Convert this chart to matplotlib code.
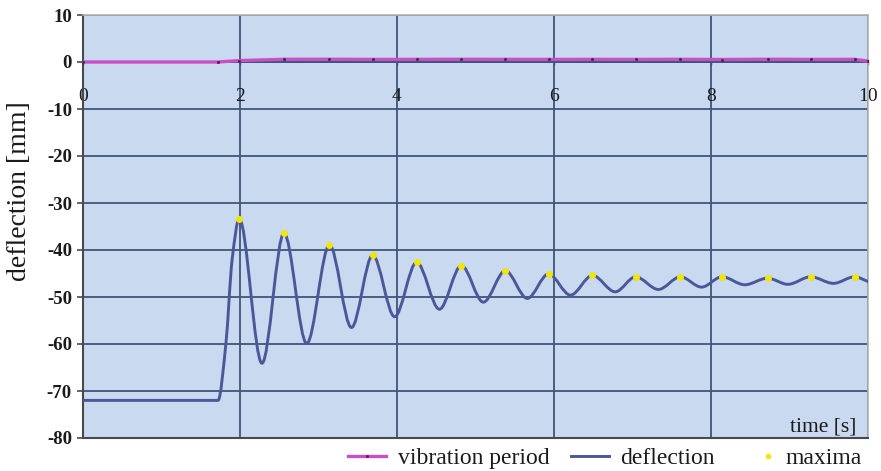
import matplotlib
matplotlib.use("Agg")
import matplotlib.pyplot as plt
from matplotlib.path import Path
from matplotlib.patches import PathPatch
from matplotlib.lines import Line2D
from matplotlib.legend_handler import HandlerLine2D
import numpy as np

# ---- data -------------------------------------------------------------
# deflection curve: read points (start plateau, rise, alternating extrema)
t_deflection = [0.0, 1.72, 1.82, 1.90, 1.99, 2.28, 2.56, 2.85, 3.14, 3.42,
                3.69, 3.97, 4.25, 4.54, 4.82, 5.10, 5.38, 5.66, 5.93, 6.21,
                6.49, 6.78, 7.04, 7.33, 7.61, 7.88, 8.14, 8.43, 8.72, 8.98,
                9.27, 9.56, 9.83, 10.0]
deflection = [-72.0, -72.0, -60.0, -42.0, -33.3, -64.1, -36.4, -59.9, -38.9, -56.5,
              -41.1, -54.2, -42.6, -52.6, -43.3, -51.1, -44.4, -50.3, -45.1, -49.6,
              -45.4, -48.9, -45.7, -48.4, -45.7, -47.9, -45.7, -47.4, -46.0, -47.3,
              -45.7, -47.1, -45.7, -46.7]

# maxima of the deflection
t_maxima = [1.99, 2.56, 3.14, 3.69, 4.25, 4.82, 5.38, 5.93, 6.49, 7.04,
            7.61, 8.14, 8.72, 9.27, 9.83]
maxima = [-33.3, -36.4, -38.9, -41.1, -42.6, -43.3, -44.4, -45.1, -45.4, -45.7,
          -45.7, -45.7, -46.0, -45.7, -45.7]

# vibration period [s]
t_period = [0.0, 1.72, 1.99, 2.56, 3.14, 3.69, 4.25, 4.82, 5.38, 5.93,
            6.49, 7.04, 7.61, 8.14, 8.72, 9.27, 9.83, 10.0]
period = [0.0, 0.0, 0.3, 0.57, 0.58, 0.55, 0.56, 0.57, 0.56, 0.55,
          0.56, 0.55, 0.57, 0.53, 0.58, 0.55, 0.56, 0.2]

x_ticks = [0, 2, 4, 6, 8, 10]
y_ticks = [10, 0, -10, -20, -30, -40, -50, -60, -70, -80]

# ---- style ------------------------------------------------------------
plt.rcParams["axes.unicode_minus"] = False
SERIF = ["Liberation Serif", "DejaVu Serif"]
BG = "#c9d9ef"
GRID = "#3d5679"
DEFL = "#4a5899"
MAGENTA = "#c94fc9"
YELLOW = "#f2e600"
TXT = "#1a1a1a"


def smooth_path(x, y):
    """Cubic Bezier path through the points (monotone Hermite tangents)."""
    x = np.asarray(x, float)
    y = np.asarray(y, float)
    h = np.diff(x)
    d = np.diff(y) / h
    m = np.zeros_like(y)
    m[0], m[-1] = d[0], d[-1]
    for k in range(1, len(x) - 1):
        if d[k - 1] * d[k] > 0:
            w1 = 2 * h[k] + h[k - 1]
            w2 = h[k] + 2 * h[k - 1]
            m[k] = (w1 + w2) / (w1 / d[k - 1] + w2 / d[k])
    verts = [(x[0], y[0])]
    codes = [Path.MOVETO]
    for k in range(len(x) - 1):
        verts += [(x[k] + h[k] / 3, y[k] + m[k] * h[k] / 3),
                  (x[k + 1] - h[k] / 3, y[k + 1] - m[k + 1] * h[k] / 3),
                  (x[k + 1], y[k + 1])]
        codes += [Path.CURVE4] * 3
    return Path(verts, codes)


class MarkerNearText(HandlerLine2D):
    """Legend handler that puts a lone marker close to its label."""
    def get_xdata(self, legend, xdescent, ydescent, width, height, fontsize):
        xdata = [-xdescent + 0.7 * width, -xdescent + width]
        return xdata, [-xdescent + 0.85 * width]


fig = plt.figure(figsize=(8.81, 4.71), dpi=100)
ax = fig.add_axes([83 / 881, 1 - 438 / 471, 785 / 881, 423 / 471])
ax.set_facecolor(BG)
ax.set_xlim(0, 10)
ax.set_ylim(-80, 10)

ax.set_xticks(x_ticks)
ax.set_yticks(y_ticks)
ax.grid(True, color=GRID, linewidth=1.3)
ax.set_axisbelow(True)

# vibration period
ax.plot(t_period, period, color=MAGENTA, linewidth=2.4, marker="o",
        markersize=2.2, markerfacecolor="#5a1f5a", markeredgewidth=0, zorder=3)

# deflection (smoothed line)
ax.add_patch(PathPatch(smooth_path(t_deflection, deflection), facecolor="none",
                       edgecolor=DEFL, linewidth=2.1, zorder=4,
                       capstyle="round", joinstyle="round"))

# maxima
ax.plot(t_maxima, maxima, linestyle="none", marker="o", markersize=5,
        color=YELLOW, markeredgewidth=0, zorder=5)

# axes frame: horizontal axis crosses at 0
ax.spines["bottom"].set_position(("data", 0))
ax.spines["bottom"].set_color(GRID)
ax.spines["bottom"].set_linewidth(1.3)
ax.spines["left"].set_color("#4a4a4a")
ax.spines["left"].set_linewidth(1.5)
for s in ("top", "right"):
    ax.spines[s].set_color("#b5b5b5")
    ax.spines[s].set_linewidth(1.2)
ax.axhline(-80, color="#4a4a4a", linewidth=1.5, clip_on=False, zorder=6)

ax.tick_params(axis="x", direction="inout", length=4, width=1, color=GRID,
               pad=17, labelsize=14, labelcolor=TXT)
ax.tick_params(axis="y", direction="out", length=4, width=1.2, color="#4a4a4a",
               pad=4, labelsize=13.5, labelcolor=TXT)
for lab in ax.get_xticklabels():
    lab.set_family(SERIF)
for lab in ax.get_yticklabels():
    lab.set_family(SERIF)
    lab.set_fontweight("bold")

fig.text(20 / 881, 1 - 191 / 471, "deflection [mm]", rotation=90,
         ha="center", va="center", family=SERIF, fontsize=20, color=TXT)
ax.text(0.985, 0.003, "time [s]", transform=ax.transAxes, ha="right", va="bottom",
        family=SERIF, fontsize=15.5, color=TXT)

h_period = Line2D([], [], color=MAGENTA, linewidth=2.4, marker="o", markersize=2.2,
                  markerfacecolor="#5a1f5a", markeredgewidth=0, markevery=[1])
h_defl = Line2D([], [], color=DEFL, linewidth=2.1)
h_max = Line2D([], [], linestyle="none", marker="o", markersize=4, color=YELLOW,
               markeredgewidth=0)
fig.legend([h_period, h_defl, h_max], ["vibration period", "deflection", "maxima"],
           ncol=3, loc="center right", bbox_to_anchor=(862 / 881, 1 - 458 / 471),
           frameon=False, prop={"family": SERIF, "size": 17}, handlelength=1.6,
           handletextpad=0.5, columnspacing=0.9, borderpad=0, borderaxespad=0,
           labelcolor=TXT, handler_map={h_max: MarkerNearText()})

fig.savefig("out.png", dpi=100, facecolor="white")
